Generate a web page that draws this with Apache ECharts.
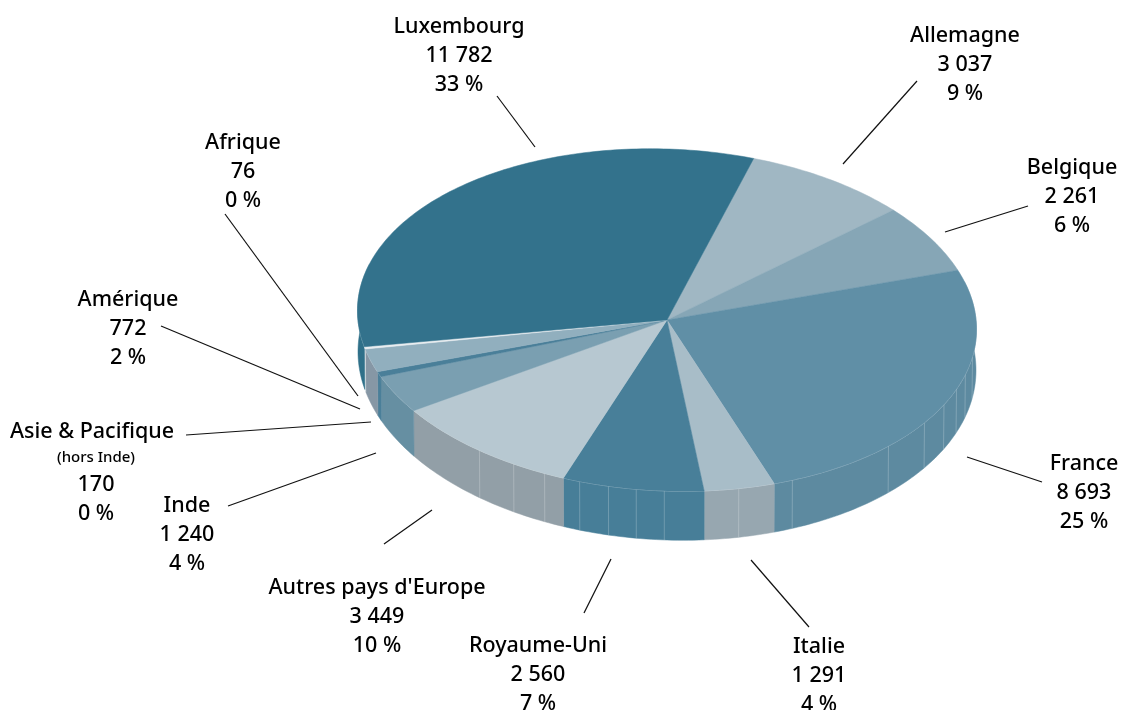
<!DOCTYPE html>
<html><head><meta charset="utf-8">
<style>html,body{margin:0;padding:0;background:#fff}#c{width:1124px;height:710px}</style>
<script src="https://cdn.jsdelivr.net/npm/echarts@6/dist/echarts.min.js"></script>
</head><body><div id="c"></div>
<script>
// ---------- data ----------
const names  = ['Allemagne','Belgique','France','Italie','Royaume-Uni',"Autres pays d'Europe",'Inde','Asie & Pacifique','Amérique','Afrique','Luxembourg'];
const values = [3037,2261,8693,1291,2560,3449,1240,170,772,76,11782];
const valueLabels = ['3 037','2 261','8 693','1 291','2 560','3 449','1 240','170','772','76','11 782'];
const shareLabels = ['9 %','6 %','25 %','4 %','7 %','10 %','4 %','0 %','2 %','0 %','33 %'];
const subLabels   = {'Asie & Pacifique':'(hors Inde)'};

// ---------- styles ----------
const topColors  = ['#a0b7c3','#86a6b6','#608fa6','#a8bdc8','#487f99','#b7c8d1','#7a9fb1','#4a7f99','#91afbe','#e8edf0','#33728c'];
const wallColors = ['#a0b7c3','#86a6b6','#5d8aa0','#97a7b0','#477e98','#929fa7','#668fa2','#4a7f99','#8697a5','#dfe5e8','#2f7089'];
const seamAngles = [99.2,105.4,110.7,116.5,123.7,134.3,156.1,166.6,180.5,185.7,190.9,196.4,203.3,209.7,217.3];

// ---------- geometry of the tilted disc ----------
const START = 17, CX = 667, SHEAR = 0.03, VIEW_WARP = 1.0;
const TOP = {cy:320, rx:309.5, ry:171};
const BOT = {cy:361, rx:309, ry:179};
const pt = (e, deg) => {
  const a = deg*Math.PI/180, x = CX + e.rx*Math.sin(a);
  return [x, e.cy - e.ry*Math.cos(a) + SHEAR*(x-CX)];
};
const arc = (e, a0, a1) => {
  const n = Math.max(2, Math.ceil(Math.abs(a1-a0))), o = [];
  for (let i=0;i<=n;i++) o.push(pt(e, a0+(a1-a0)*i/n));
  return o;
};
const total = values.reduce((a,b)=>a+b,0);
// angle of slice i's leading edge, with the small foreshortening of the oblique view
const angleOf = i => {
  const t = START + values.slice(0,i).reduce((a,b)=>a+b,0)/total*360;
  return t + VIEW_WARP*Math.sin((t-150)*Math.PI/180);
};

const renderTop = (p, api) => {
  const i = p.dataIndex, a0 = angleOf(i), a1 = angleOf(i+1);
  return {type:'polygon', shape:{points:[[CX,TOP.cy],...arc(TOP,a0,a1)]},
    style:{fill:topColors[i], stroke:topColors[i], lineWidth:0.5}};
};
const renderWall = (p, api) => {
  const i = p.dataIndex, b0 = angleOf(i), b1 = angleOf(i+1);
  const a0 = Math.max(b0,74), a1 = Math.min(b1,286);
  if (a1 <= a0) return {type:'group', children:[]};
  const kids = [{type:'polygon', shape:{points:[...arc(TOP,a0,a1),...arc(BOT,a1,a0)]},
    style:{fill:wallColors[i], stroke:wallColors[i], lineWidth:0.5}}];
  // light seams between the wall's facets, and its upper rim
  seamAngles.filter(s=>s>a0 && s<a1).forEach(s=>{
    const t=pt(TOP,s), b=pt(BOT,s);
    kids.push({type:'line', shape:{x1:t[0],y1:t[1],x2:b[0],y2:b[1]}, style:{stroke:'rgba(255,255,255,.22)', lineWidth:1}, z2:2});
  });
  kids.push({type:'polyline', shape:{points:arc(TOP,a0,a1)}, style:{fill:null, stroke:'rgba(255,255,255,.4)', lineWidth:1}, z2:3});
  return {type:'group', children:kids};
};

// ---------- annotation layout (label centre x, first line y, leader line) ----------
const labelLayout = {
  'Luxembourg':[459,25,[497,96,535,147]],
  'Allemagne':[965,34,[917,81,843,164]],
  'Belgique':[1072,166,[1028,206,945,232]],
  'France':[1084,462,[1042,482,967,457]],
  'Italie':[819,645,[809,627,751,560]],
  'Royaume-Uni':[538,644,[584,613,611,559]],
  "Autres pays d'Europe":[377,586,[384,544,432,510]],
  'Inde':[187,504,[228,506,376,453]],
  'Asie & Pacifique':[92,430,[186,435,371,422]],
  'Amérique':[128,298,[161,326,360,409]],
  'Afrique':[243,141,[225,214,358,396]]
};
const LINE = 28.7, FONT = '"Noto Sans", sans-serif', DY = 2, SIZE = 21.5;
const txt = (text,x,y,size) => ({type:'text', x, y:y+DY, silent:true, z:10,
  style:{text, align:'center', verticalAlign:'middle', fontFamily:FONT, fontSize:size, fontWeight:500, fill:'#000'}});
const graphics = [];
names.forEach((n,i)=>{
  const [x,y,l] = labelLayout[n];
  graphics.push({type:'line', silent:true, z:9, shape:{x1:l[0],y1:l[1],x2:l[2],y2:l[3]}, style:{stroke:'#111', lineWidth:1.2}});
  graphics.push(txt(n,x,y,SIZE));
  if (subLabels[n]) {
    graphics.push(txt(subLabels[n],x+4,y+26,15));
    graphics.push(txt(valueLabels[i],x+4,y+53,SIZE));
    graphics.push(txt(shareLabels[i],x+4,y+82,SIZE));
  } else {
    graphics.push(txt(valueLabels[i],x,y+LINE,SIZE));
    graphics.push(txt(shareLabels[i],x,y+2*LINE,SIZE));
  }
});

const chart = echarts.init(document.getElementById('c'), null, {renderer:'canvas', width:1124, height:710});
const rows = values.map((v,i)=>({name:names[i], value:[v]}));
chart.setOption({
  animation:false, backgroundColor:'#fff',
  graphic:{elements:graphics},
  series:[
    {type:'custom', coordinateSystem:'none', z:1, silent:true, renderItem:renderWall, data:rows},
    {type:'custom', coordinateSystem:'none', z:2, silent:true, renderItem:renderTop,  data:rows}
  ]
});
</script></body></html>
